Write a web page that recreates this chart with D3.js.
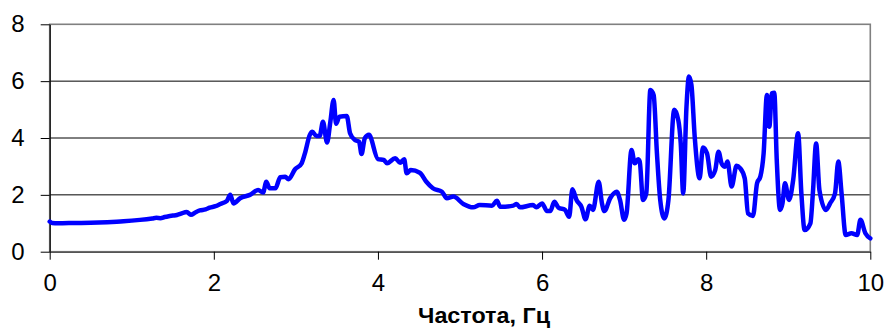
<!DOCTYPE html>
<html>
<head>
<meta charset="utf-8">
<script src="https://cdn.jsdelivr.net/npm/d3@7"></script>
<style>
  body { margin: 0; background: #fff; }
  svg { display: block; }
</style>
</head>
<body>
<svg class="chart" width="888" height="329"></svg>
<script>
// spectrum values
var freq = [0, 0.03, 0.1, 0.3, 0.5, 0.7, 0.9, 1.1, 1.25, 1.3, 1.35, 1.4, 1.45, 1.5, 1.55, 1.6, 1.67, 1.72, 1.78, 1.83, 1.9, 1.95, 2.02, 2.08, 2.16, 2.2, 2.24, 2.32, 2.44, 2.54, 2.6, 2.64, 2.68, 2.75, 2.81, 2.87, 2.91, 2.99, 3.07, 3.11, 3.17, 3.2, 3.25, 3.29, 3.33, 3.38, 3.42, 3.46, 3.49, 3.53, 3.62, 3.66, 3.72, 3.77, 3.8, 3.84, 3.89, 4.0, 4.07, 4.11, 4.21, 4.27, 4.32, 4.35, 4.4, 4.51, 4.59, 4.67, 4.78, 4.84, 4.92, 5.04, 5.16, 5.24, 5.39, 5.45, 5.49, 5.65, 5.69, 5.73, 5.89, 5.93, 6.0, 6.06, 6.1, 6.15, 6.2, 6.28, 6.33, 6.37, 6.42, 6.48, 6.53, 6.58, 6.62, 6.69, 6.73, 6.76, 6.83, 6.91, 6.95, 7.0, 7.03, 7.09, 7.13, 7.17, 7.19, 7.23, 7.27, 7.32, 7.36, 7.4, 7.44, 7.49, 7.54, 7.61, 7.66, 7.69, 7.72, 7.76, 7.79, 7.82, 7.86, 7.92, 7.96, 8.01, 8.06, 8.11, 8.15, 8.19, 8.23, 8.26, 8.31, 8.37, 8.41, 8.47, 8.51, 8.57, 8.62, 8.66, 8.7, 8.74, 8.77, 8.8, 8.83, 8.86, 8.9, 8.93, 8.96, 9.01, 9.06, 9.12, 9.16, 9.2, 9.27, 9.3, 9.34, 9.38, 9.46, 9.51, 9.57, 9.61, 9.65, 9.7, 9.77, 9.84, 9.88, 9.94, 10.0];
var amp = [1.06, 1.01, 1.0, 1.01, 1.02, 1.04, 1.07, 1.12, 1.17, 1.19, 1.18, 1.22, 1.25, 1.27, 1.29, 1.34, 1.4, 1.3, 1.39, 1.45, 1.49, 1.55, 1.6, 1.68, 1.79, 2.0, 1.7, 1.88, 2.0, 2.17, 2.08, 2.46, 2.23, 2.23, 2.62, 2.64, 2.55, 2.9, 3.11, 3.46, 4.11, 4.22, 4.07, 4.07, 4.57, 3.84, 4.57, 5.34, 4.5, 4.75, 4.77, 4.17, 3.93, 3.87, 3.44, 3.99, 4.11, 3.26, 3.23, 3.11, 3.29, 3.13, 3.25, 2.76, 2.87, 2.78, 2.46, 2.23, 2.11, 1.88, 1.94, 1.68, 1.56, 1.64, 1.62, 1.79, 1.58, 1.62, 1.68, 1.56, 1.64, 1.56, 1.7, 1.43, 1.43, 1.76, 1.55, 1.47, 1.23, 2.2, 1.82, 1.58, 1.14, 1.62, 1.47, 2.46, 1.7, 1.43, 1.88, 2.11, 1.82, 1.12, 1.35, 3.58, 3.11, 3.25, 3.17, 1.82, 2.05, 5.69, 5.51, 3.46, 1.82, 1.17, 1.82, 4.99, 4.63, 3.81, 2.05, 5.1, 6.16, 5.87, 4.05, 2.58, 3.67, 3.46, 2.64, 2.87, 3.52, 3.09, 2.99, 3.17, 2.29, 3.02, 2.95, 2.58, 1.35, 1.26, 2.41, 2.64, 3.46, 5.51, 4.4, 5.57, 5.59, 3.23, 1.47, 1.7, 2.41, 1.82, 2.52, 4.17, 2.05, 0.76, 1.0, 2.05, 3.81, 2.17, 1.47, 1.7, 2.05, 3.17, 2.05, 0.59, 0.65, 0.59, 1.12, 0.65, 0.47];
var xTicks = [0, 2, 4, 6, 8, 10];
var yTicks = [0, 2, 4, 6, 8];
var xTitle = "Частота, Гц";

var svg = d3.select(".chart");
var font = "Arial, 'Liberation Sans', sans-serif";

var plotLeft = 49.7, plotRight = 870.3, plotTop = 24.3, plotBottom = 251.7;

var x = d3.scaleLinear().domain([0, 10]).range([plotLeft, plotRight]);
var y = d3.scaleLinear().domain([0, 8]).range([plotBottom, plotTop]);

// grid lines
svg.selectAll(".grid")
    .data(yTicks.filter(d => d > 0 && d < 8))
    .enter().append("line")
    .attr("class", "grid")
    .attr("x1", plotLeft)
    .attr("x2", plotRight)
    .attr("y1", d => y(d))
    .attr("y2", d => y(d))
    .attr("stroke", "#000")
    .attr("stroke-width", 1);

// plot border (grey)
svg.append("rect")
    .attr("x", plotLeft)
    .attr("y", plotTop)
    .attr("width", plotRight - plotLeft)
    .attr("height", plotBottom - plotTop)
    .attr("fill", "none")
    .attr("stroke", "#808080")
    .attr("stroke-width", 1.6);

// y axis
var yAxis = svg.append("g")
    .attr("transform", `translate(${plotLeft},0)`)
    .call(d3.axisLeft(y).tickValues(yTicks).tickSize(9).tickPadding(16).tickSizeOuter(0));
yAxis.select(".domain").attr("stroke", "#000").attr("stroke-width", 1.2);
yAxis.selectAll("line").attr("stroke", "#000").attr("stroke-width", 1);
yAxis.selectAll("text")
    .attr("font-family", font)
    .attr("font-size", "24px")
    .attr("fill", "#000");

// x axis
var xAxis = svg.append("g")
    .attr("transform", `translate(0,${plotBottom})`)
    .call(d3.axisBottom(x).tickValues(xTicks).tickSize(8).tickPadding(14).tickSizeOuter(0));
xAxis.select(".domain").attr("stroke", "#555").attr("stroke-width", 1.6);
xAxis.selectAll("line").attr("stroke", "#000").attr("stroke-width", 1);
xAxis.selectAll("text")
    .attr("font-family", font)
    .attr("font-size", "24px")
    .attr("fill", "#000");

// axis title
svg.append("text")
    .attr("x", 484)
    .attr("y", 323)
    .attr("text-anchor", "middle")
    .attr("font-family", font)
    .attr("font-weight", "bold")
    .attr("font-size", "22px")
    .attr("textLength", 132)
    .attr("lengthAdjust", "spacingAndGlyphs")
    .text(xTitle);

// the spectrum line
var line = d3.line()
    .x((d, i) => x(freq[i]))
    .y(d => y(d))
    .curve(d3.curveMonotoneX);

svg.append("path")
    .datum(amp)
    .attr("d", line)
    .attr("fill", "none")
    .attr("stroke", "#0000FF")
    .attr("stroke-width", 4.5)
    .attr("stroke-linejoin", "round")
    .attr("stroke-linecap", "round");
</script>
</body>
</html>
